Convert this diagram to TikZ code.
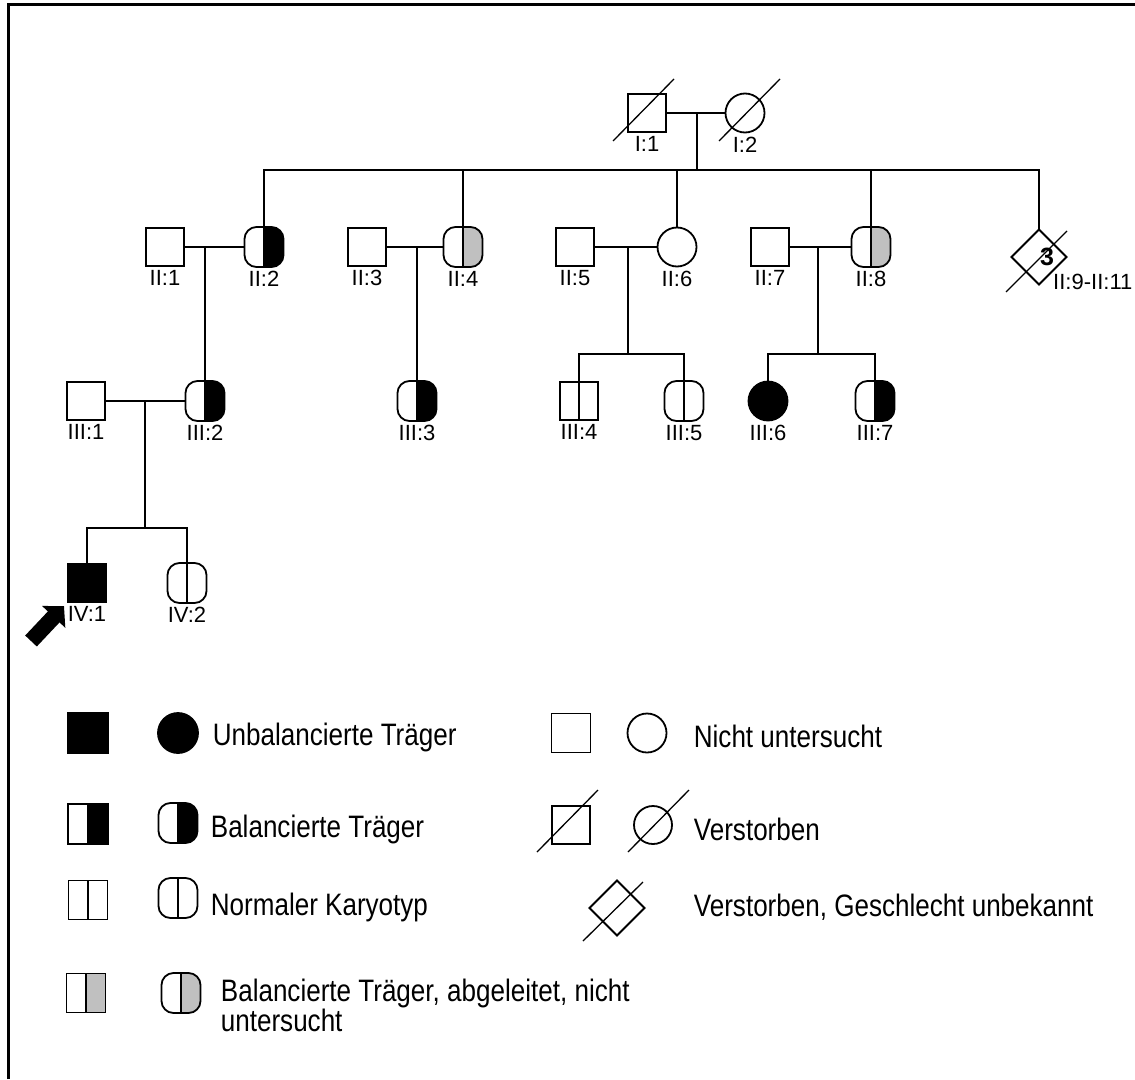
\documentclass[tikz,border=0pt]{standalone}
\usepackage{fontspec}
\setmainfont{Liberation Sans}
\newfontfamily\keyfont[FakeStretch=0.84]{Liberation Sans}
\usetikzlibrary{arrows.meta,positioning,shapes.geometric}
\definecolor{derivedgray}{HTML}{C0C0C0}

\begin{document}
\begin{tikzpicture}[x=1pt,y=-1pt,line width=1.8pt,
  person/.style={draw,line width=1.8pt,inner sep=0pt,outer sep=0pt},
  male/.style={person,rectangle,minimum size=38pt},
  female/.style={person,circle,minimum size=39pt},
  kary/.style={person,rectangle,rounded corners=12pt,minimum width=39pt,minimum height=40pt},
  halves/.style={path picture={
    \fill[#1,sharp corners] (path picture bounding box.south) rectangle (path picture bounding box.north east);
    \draw[line width=1.8pt] (path picture bounding box.north) -- (path picture bounding box.south);}},
  halves/.default=white,
  unknown/.style={person,diamond,aspect=1,minimum width=55pt,minimum height=55pt},
  slash/.style={line width=1.3pt},
  tag/.style={font=\fontsize{22}{25}\selectfont},
  every label/.style={tag},
  count/.style={font=\fontsize{25}{25}\selectfont\bfseries,xshift=8pt},
  keyL/.style={anchor=west,inner sep=0pt,font=\keyfont\fontsize{31}{30}\selectfont},
  pointer/.style={-{Triangle[length=15pt,width=31pt]},line width=16pt}]
  \useasboundingbox (0,0) rectangle (1135,1079);
  % Frame
  \draw[line width=2.8pt] (8.7,1079) -- (8.7,4.7) -- (1135,4.7);

  % Generation I
  \node[male,label=below:{I:1}] (I1) at (647,113) {};
  \node[female,label=below:{I:2}] (I2) at (745,113) {};
  \draw[slash] ([shift={(-34,28)}]I1.center) -- ([shift={(27,-34)}]I1.center);
  \draw[slash] ([shift={(-26,28)}]I2.center) -- ([shift={(35,-34)}]I2.center);
  \draw (I1) -- (I2);
  \coordinate (m1) at (697,113);
  \coordinate (sib1) at (697,170);
  \draw (m1) -- (sib1);

  % Generation II
  \node[male,label=below:{II:1}] (II1) at (165,247) {};
  \node[kary,halves=black,label=below:{II:2}] (II2) at (264,247) {};
  \node[male,label=below:{II:3}] (II3) at (367,247) {};
  \node[kary,halves=derivedgray,label=below:{II:4}] (II4) at (463,247) {};
  \node[male,label=below:{II:5}] (II5) at (575,247) {};
  \node[female,label=below:{II:6}] (II6) at (677,247) {};
  \node[male,label=below:{II:7}] (II7) at (770,247) {};
  \node[kary,halves=derivedgray,label=below:{II:8}] (II8) at (871,247) {};
  \node[unknown,label={[count]center:{3}}] (II9) at (1039,257) {};
  \node[tag,anchor=west] (II9lab) at (1049,282) {II:9-II:11};
  \draw[slash] ([shift={(-33,35)}]II9.center) -- ([shift={(28,-26)}]II9.center);
  \draw (II2) |- (sib1) -| (II9);
  \foreach \n in {II4,II6,II8}
    \draw (\n) -- (\n |- sib1);
  \draw (II1) -- (II2);
  \coordinate (m2) at (205,247);
  \draw (II3) -- (II4);
  \coordinate (m3) at (417,247);
  \draw (II5) -- (II6);
  \coordinate (m4) at (628,247);
  \draw (II7) -- (II8);
  \coordinate (m5) at (818,247);

  % Generation III
  \node[male,label=below:{III:1}] (III1) at (86,401) {};
  \node[kary,halves=black,label=below:{III:2}] (III2) at (205,401) {};
  \node[kary,halves=black,label=below:{III:3}] (III3) at (417,401) {};
  \node[male,halves,label=below:{III:4}] (III4) at (579,401) {};
  \node[kary,halves,label=below:{III:5}] (III5) at (684,401) {};
  \node[female,fill=black,label=below:{III:6}] (III6) at (768,401) {};
  \node[kary,halves=black,label=below:{III:7}] (III7) at (875,401) {};
  \draw (m2) -- (III2);
  \draw (m3) -- (III3);
  \coordinate (s4) at (628,354);
  \draw (m4) -- (s4);
  \draw (III4) |- (s4) -| (III5);
  \coordinate (s5) at (818,354);
  \draw (m5) -- (s5);
  \draw (III6) |- (s5) -| (III7);
  \draw (III1) -- (III2);
  \coordinate (m6) at (145,401);
  \coordinate (s6) at (145,528);
  \draw (m6) -- (s6);

  % Generation IV
  \node[male,fill=black,label=below:{IV:1}] (IV1) at (87,583) {};
  \node[kary,halves,label=below:{IV:2}] (IV2) at (187,583) {};
  \draw (IV1) |- (s6) -| (IV2);
  \coordinate (tail) at (31,641);
  \draw[pointer] (tail) -- ([shift={(-4,4)}]IV1.south west);

  % Legend, left column
  \node[male,fill=black,minimum size=40pt] (k1a) at (88,733) {};
  \node[female,fill=black,minimum size=40pt] (k1b) at (178,733) {};
  \node[keyL] (k1t) at (212,737) {Unbalancierte Träger};
  \node[male,halves=black,minimum size=40pt] (k2a) at (88,824) {};
  \node[kary,halves=black] (k2b) at (178,823) {};
  \node[keyL] (k2t) at (210,829) {Balancierte Träger};
  \node[male,halves,minimum size=39pt] (k3a) at (88,900) {};
  \node[kary,halves] (k3b) at (178,898) {};
  \node[keyL] (k3t) at (210,907) {Normaler Karyotyp};
  \node[male,halves=derivedgray,minimum size=39pt] (k4a) at (86,993) {};
  \node[kary,halves=derivedgray] (k4b) at (181,993) {};
  \node[keyL,align=left] (k4t) at (220,1005) {Balancierte Träger, abgeleitet, nicht\\untersucht};

  % Legend, right column
  \node[male,minimum size=39pt] (r1a) at (571,733) {};
  \node[female,minimum size=39pt] (r1b) at (647,733) {};
  \node[keyL] (r1t) at (693,736) {Nicht untersucht};
  \node[male,minimum size=38pt] (r2a) at (571,825) {};
  \node[female,minimum size=38pt] (r2b) at (653,825) {};
  \draw[slash] ([shift={(-34,27)}]r2a.center) -- ([shift={(27,-35)}]r2a.center);
  \draw[slash] ([shift={(-25,27)}]r2b.center) -- ([shift={(36,-35)}]r2b.center);
  \node[keyL] (r2t) at (693,829) {Verstorben};
  \node[unknown] (r3a) at (617,908) {};
  \draw[slash] ([shift={(-34,33)}]r3a.center) -- ([shift={(26,-26)}]r3a.center);
  \node[keyL] (r3t) at (693,907) {Verstorben, Geschlecht unbekannt};
\end{tikzpicture}
\end{document}
